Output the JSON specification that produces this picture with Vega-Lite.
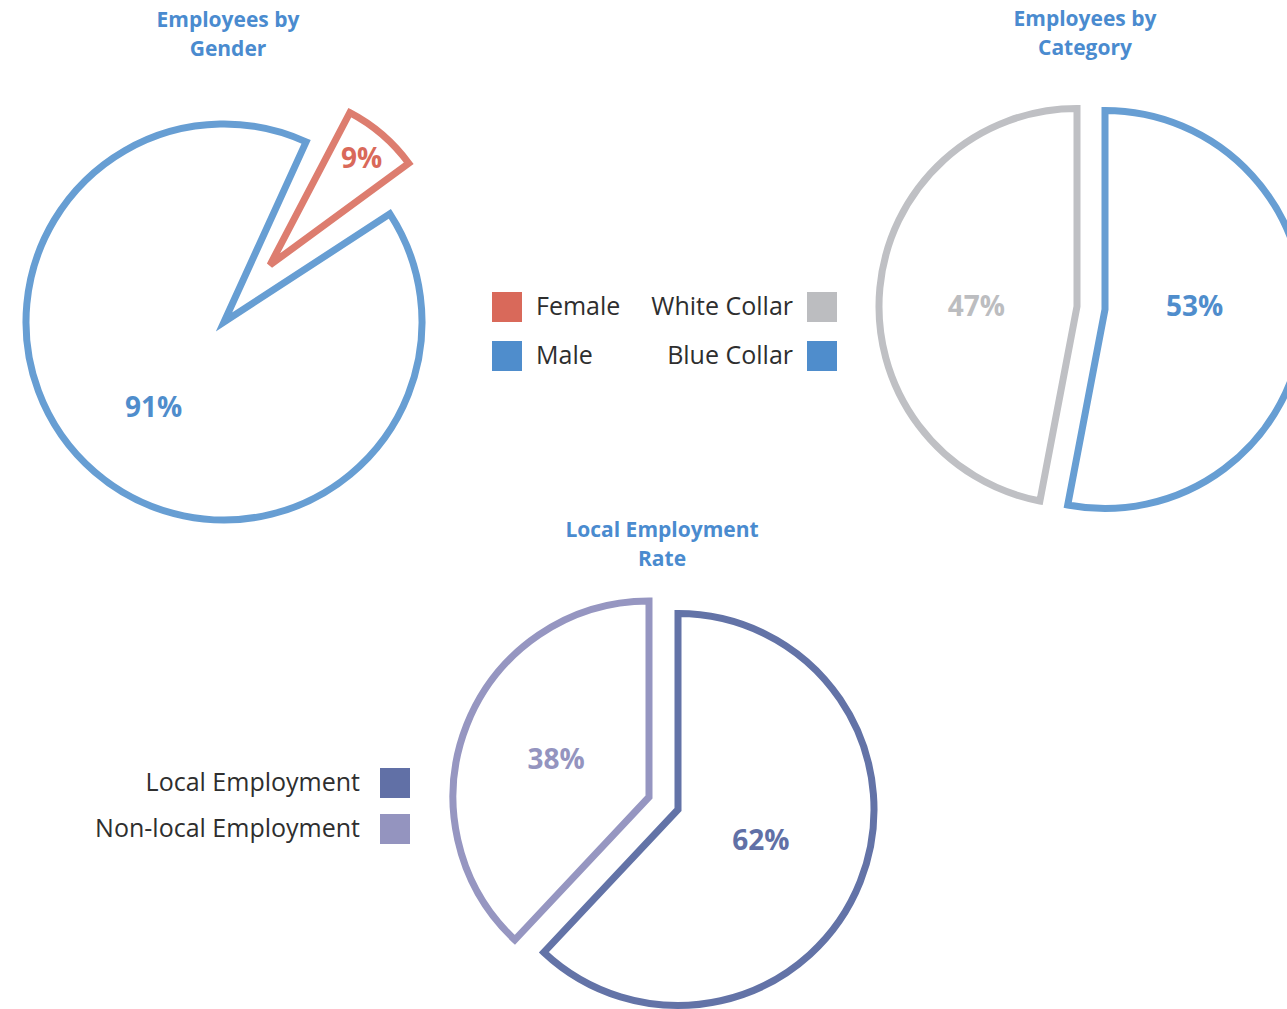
{
  "$schema": "https://vega.github.io/schema/vega-lite/v6.json",
  "background": "white",
  "padding": {"top": 8, "left": 0, "right": 0, "bottom": 0},
  "bounds": "flush",
  "align": "each",
  "columns": 2,
  "spacing": {"row": 58, "column": 0},
  "config": {
    "view": {"stroke": null},
    "title": {"font": "Open Sans", "fontSize": 21, "fontWeight": "bold", "color": "#4a8bcf", "lineHeight": 29, "offset": 39, "anchor": "middle", "frame": "group"},
    "legend": {"symbolType": "square", "symbolSize": 900, "symbolStrokeWidth": 0, "symbolOpacity": 1, "labelFont": "Open Sans", "labelFontSize": 25, "labelColor": "#2e2e2e", "padding": 0, "labelLimit": 400}
  },
  "datasets": {
    "gender": [
      {"cat": "Female", "value": 9, "label": "9%"},
      {"cat": "Male", "value": 91, "label": "91%"}
    ],
    "category": [
      {"cat": "Blue Collar", "value": 53, "label": "53%"},
      {"cat": "White Collar", "value": 47, "label": "47%"}
    ],
    "local": [
      {"cat": "Local Employment", "value": 62, "label": "62%"},
      {"cat": "Non-local Employment", "value": 38, "label": "38%"}
    ]
  },
  "resolve": {"scale": {"color": "independent", "theta": "independent"}, "legend": {"color": "independent"}},
  "concat": [
    {
      "width": 448,
      "height": 442,
      "title": {"text": ["Employees by", "Gender"], "dx": 4},
      "data": {"name": "gender"},
      "transform": [{"stack": "value", "groupby": [], "as": ["v0", "v1"]}],
      "layer": [
        {
          "transform": [{"filter": "datum.cat === 'Male'"}],
          "mark": {"type": "arc", "radius": 198, "fill": "white", "stroke": "#679ed3", "strokeWidth": 7},
          "encoding": {
            "theta": {"field": "v0", "type": "quantitative", "scale": {"domain": [0, 100], "range": [0.4276, 6.7108]}},
            "theta2": {"field": "v1"}
          }
        },
        {
          "transform": [{"filter": "datum.cat === 'Female'"}],
          "mark": {"type": "arc", "radius": 172, "padAngle": 0.11, "fill": "white", "stroke": "#dd7d6f", "strokeWidth": 7, "xOffset": 46, "yOffset": -57},
          "encoding": {
            "theta": {"field": "v0", "type": "quantitative", "scale": {"domain": [0, 100], "range": [0.4276, 6.7108]}},
            "theta2": {"field": "v1"}
          }
        },
        {
          "mark": {"type": "text", "radius": 111, "font": "Open Sans", "fontSize": 28, "fontWeight": "bold", "xOffset": 2, "yOffset": 3},
          "encoding": {
            "theta": {"field": "value", "type": "quantitative", "stack": true, "scale": {"domain": [0, 100], "range": [0.4276, 6.7108]}},
            "order": {"field": "value", "type": "quantitative", "sort": "ascending"},
            "text": {"field": "label", "condition": {"test": "datum.cat !== 'Male'", "value": ""}},
            "color": {"field": "cat", "type": "nominal", "scale": {"domain": ["Female", "Male"], "range": ["#d9695a", "#4f8dcc"]}, "legend": {"title": null, "orient": "none", "legendX": 492, "legendY": 191, "rowPadding": 19, "labelOffset": 14}}
          }
        },
        {
          "mark": {"type": "text", "radius": 139, "font": "Open Sans", "fontSize": 28, "fontWeight": "bold", "xOffset": 47, "yOffset": -57},
          "encoding": {
            "theta": {"field": "value", "type": "quantitative", "stack": true, "scale": {"domain": [0, 100], "range": [0.4276, 6.7108]}},
            "order": {"field": "value", "type": "quantitative", "sort": "ascending"},
            "text": {"field": "label", "condition": {"test": "datum.cat !== 'Female'", "value": ""}},
            "color": {"field": "cat", "type": "nominal", "scale": {"domain": ["Female", "Male"], "range": ["#d9695a", "#4f8dcc"]}, "legend": {"title": null, "orient": "none", "legendX": 492, "legendY": 191, "rowPadding": 19, "labelOffset": 14}}
          }
        }
      ]
    },
    {
      "width": 392,
      "height": 417,
      "title": {"text": ["Employees by", "Category"], "dx": -6, "offset": 36},
      "data": {"name": "category"},
      "transform": [{"stack": "value", "groupby": [], "as": ["v0", "v1"]}],
      "layer": [
        {
          "transform": [{"filter": "datum.cat === 'Blue Collar'"}],
          "mark": {"type": "arc", "radius": 199, "fill": "white", "stroke": "#679ed3", "strokeWidth": 7, "xOffset": 14, "yOffset": 0, "clip": true},
          "encoding": {
            "theta": {"field": "v0", "type": "quantitative", "scale": {"domain": [0, 100]}},
            "theta2": {"field": "v1"}
          }
        },
        {
          "transform": [{"filter": "datum.cat === 'White Collar'"}],
          "mark": {"type": "arc", "radius": 198, "fill": "white", "stroke": "#bfc0c4", "strokeWidth": 7, "xOffset": -14, "yOffset": -3},
          "encoding": {
            "theta": {"field": "v0", "type": "quantitative", "scale": {"domain": [0, 100]}},
            "theta2": {"field": "v1"}
          }
        },
        {
          "mark": {"type": "text", "radius": 90, "font": "Open Sans", "fontSize": 28, "fontWeight": "bold", "xOffset": 14, "yOffset": -10},
          "encoding": {
            "theta": {"field": "value", "type": "quantitative", "stack": true, "scale": {"domain": [0, 100]}},
            "order": {"field": "value", "type": "quantitative", "sort": "descending"},
            "text": {"field": "label", "condition": {"test": "datum.cat !== 'Blue Collar'", "value": ""}},
            "color": {"field": "cat", "type": "nominal", "scale": {"domain": ["White Collar", "Blue Collar"], "range": ["#bcbdc0", "#4f8dcc"]}, "legend": {"title": null, "orient": "none", "legendX": -88, "legendY": 191, "rowPadding": 19, "labelOffset": -44, "labelAlign": "right"}}
          }
        },
        {
          "mark": {"type": "text", "radius": 101, "font": "Open Sans", "fontSize": 28, "fontWeight": "bold", "xOffset": -14, "yOffset": 8.5},
          "encoding": {
            "theta": {"field": "value", "type": "quantitative", "stack": true, "scale": {"domain": [0, 100]}},
            "order": {"field": "value", "type": "quantitative", "sort": "descending"},
            "text": {"field": "label", "condition": {"test": "datum.cat !== 'White Collar'", "value": ""}},
            "color": {"field": "cat", "type": "nominal", "scale": {"domain": ["White Collar", "Blue Collar"], "range": ["#bcbdc0", "#4f8dcc"]}, "legend": {"title": null, "orient": "none", "legendX": -88, "legendY": 191, "rowPadding": 19, "labelOffset": -44, "labelAlign": "right"}}
          }
        }
      ]
    },
    {
      "width": 895,
      "height": 405,
      "title": {"text": ["Local Employment", "Rate"], "dx": 214.5, "offset": 17},
      "data": {"name": "local"},
      "transform": [{"stack": "value", "groupby": [], "as": ["v0", "v1"]}],
      "layer": [
        {
          "transform": [{"filter": "datum.cat === 'Local Employment'"}],
          "mark": {"type": "arc", "radius": 196, "fill": "white", "stroke": "#6373a7", "strokeWidth": 7, "xOffset": 230.5, "yOffset": 6},
          "encoding": {
            "theta": {"field": "v0", "type": "quantitative", "scale": {"domain": [0, 100]}},
            "theta2": {"field": "v1"}
          }
        },
        {
          "transform": [{"filter": "datum.cat === 'Non-local Employment'"}],
          "mark": {"type": "arc", "radius": 196, "fill": "white", "stroke": "#9696c1", "strokeWidth": 7, "xOffset": 201.5, "yOffset": -6.5},
          "encoding": {
            "theta": {"field": "v0", "type": "quantitative", "scale": {"domain": [0, 100]}},
            "theta2": {"field": "v1"}
          }
        },
        {
          "mark": {"type": "text", "radius": 89, "font": "Open Sans", "fontSize": 28, "fontWeight": "bold", "xOffset": 230.5, "yOffset": 6},
          "encoding": {
            "theta": {"field": "value", "type": "quantitative", "stack": true, "scale": {"domain": [0, 100]}},
            "order": {"field": "value", "type": "quantitative", "sort": "descending"},
            "text": {"field": "label", "condition": {"test": "datum.cat !== 'Local Employment'", "value": ""}},
            "color": {"field": "cat", "type": "nominal", "scale": {"domain": ["Local Employment", "Non-local Employment"], "range": ["#6170a6", "#9494bf"]}, "legend": {"title": null, "orient": "none", "legendX": 380, "legendY": 167, "rowPadding": 16, "labelOffset": -50, "labelAlign": "right"}}
          }
        },
        {
          "mark": {"type": "text", "radius": 100, "font": "Open Sans", "fontSize": 28, "fontWeight": "bold", "xOffset": 201.5, "yOffset": -6},
          "encoding": {
            "theta": {"field": "value", "type": "quantitative", "stack": true, "scale": {"domain": [0, 100]}},
            "order": {"field": "value", "type": "quantitative", "sort": "descending"},
            "text": {"field": "label", "condition": {"test": "datum.cat !== 'Non-local Employment'", "value": ""}},
            "color": {"field": "cat", "type": "nominal", "scale": {"domain": ["Local Employment", "Non-local Employment"], "range": ["#6170a6", "#9494bf"]}, "legend": {"title": null, "orient": "none", "legendX": 380, "legendY": 167, "rowPadding": 16, "labelOffset": -50, "labelAlign": "right"}}
          }
        }
      ]
    }
  ]
}
